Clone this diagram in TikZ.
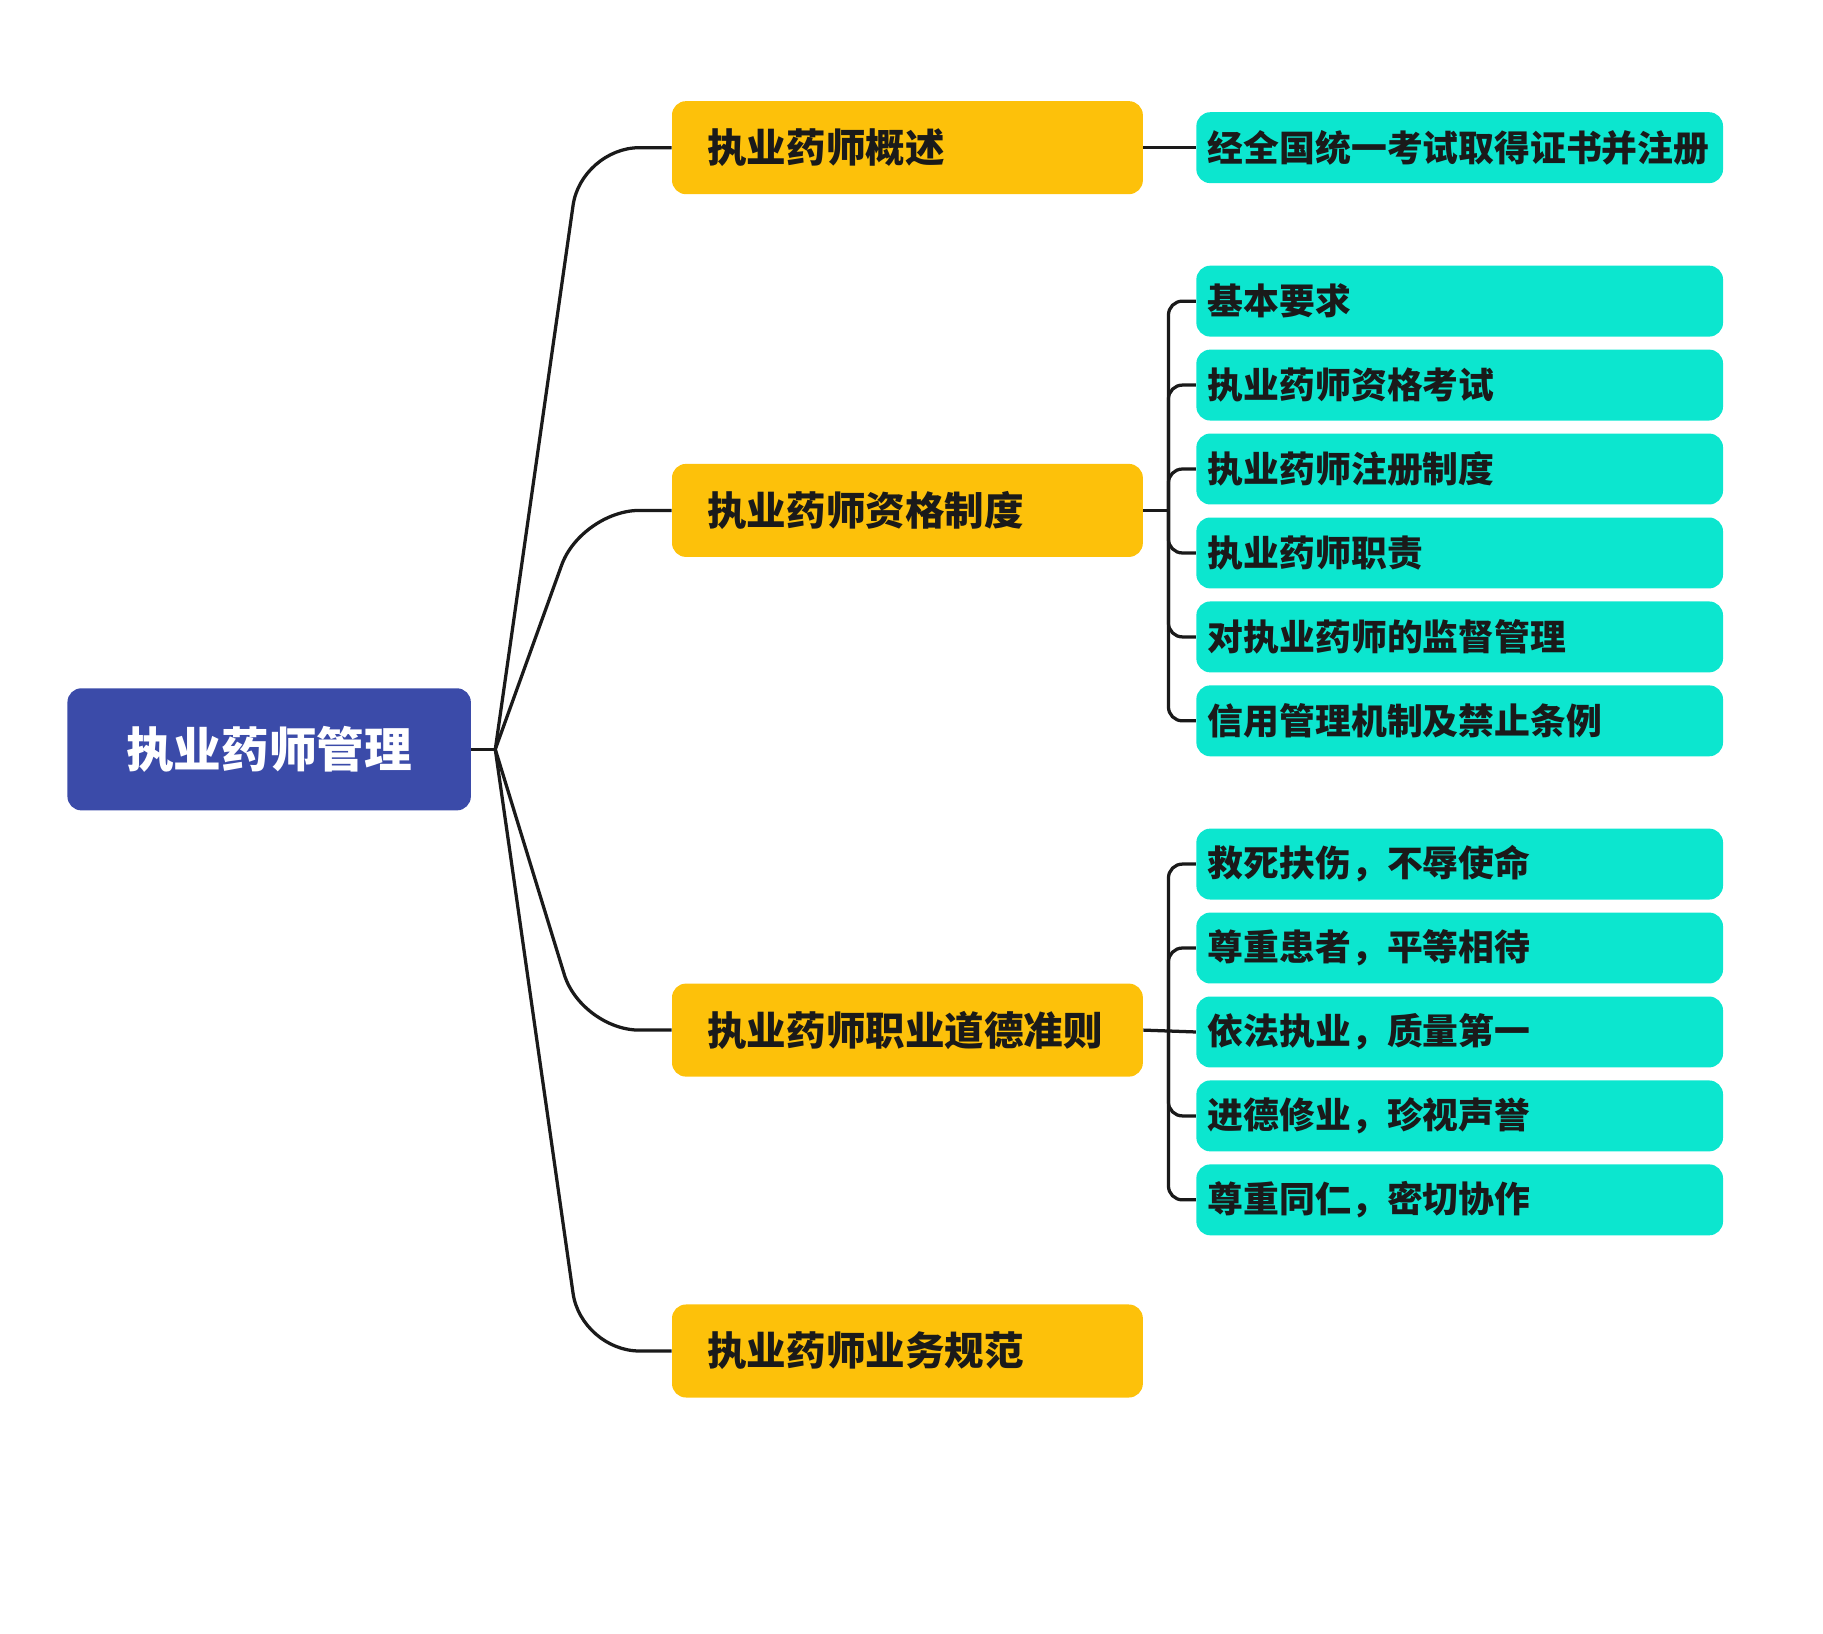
\documentclass[tikz,border=0pt]{standalone}
\usepackage{fontspec}
\setmainfont{Noto Sans CJK SC}
\usetikzlibrary{positioning}
\definecolor{rootblue}{HTML}{3B4BA9}
\definecolor{branchyellow}{HTML}{FDC10A}
\definecolor{leafteal}{HTML}{0CE6CF}
\definecolor{inkblack}{HTML}{1A1A1A}

\begin{document}
\begin{tikzpicture}[
	x=0.5pt, y=-0.5pt,
	every node/.style={node distance=5.2pt and 5.2pt, font=\bfseries},
	topic/.style={rectangle, fill=rootblue, text=white, rounded corners=6pt, minimum width=173.5pt, minimum height=52.5pt, text badly centered, font=\bfseries\fontsize{20.5pt}{24pt}\selectfont},
	branch/.style={rectangle, fill=branchyellow, text=inkblack, rounded corners=6pt, inner xsep=15.25pt, text width=172pt, minimum height=40pt, align=left, font=\bfseries\fontsize{17pt}{20pt}\selectfont},
	leaf/.style={rectangle, fill=leafteal, text=inkblack, rounded corners=6pt, inner xsep=5pt, text width=216.5pt, minimum height=30.5pt, align=left, font=\bfseries\fontsize{15.4pt}{18pt}\selectfont},
	link/.style={draw=inkblack, line width=1.4pt}
	]

\useasboundingbox (0,0) rectangle (1568,1405);

% Central topic
\node [topic] (root) at (231.5,644.5) {执业药师管理};

% Main branches
\node [branch] (overview) at (780.5,127) {执业药师概述};
\node [branch] (qualification) at (780.5,439) {执业药师资格制度};
\node [branch] (ethics) at (780.5,886) {执业药师职业道德准则};
\node [branch] (practice) at (780.5,1162) {执业药师业务规范};

% Overview
\node [leaf] (overview1) at (1255.5,127) {经全国统一考试取得证书并注册};

% Qualification system
\node [leaf] (qual1) at (1255.5,259) {基本要求};
\node [leaf, below=of qual1] (qual2) {执业药师资格考试};
\node [leaf, below=of qual2] (qual3) {执业药师注册制度};
\node [leaf, below=of qual3] (qual4) {执业药师职责};
\node [leaf, below=of qual4] (qual5) {对执业药师的监督管理};
\node [leaf, below=of qual5] (qual6) {信用管理机制及禁止条例};

% Professional ethics
\node [leaf] (ethics1) at (1255.5,743.2) {救死扶伤，不辱使命};
\node [leaf, below=of ethics1] (ethics2) {尊重患者，平等相待};
\node [leaf, below=of ethics2] (ethics3) {依法执业，质量第一};
\node [leaf, below=of ethics3] (ethics4) {进德修业，珍视声誉};
\node [leaf, below=of ethics4] (ethics5) {尊重同仁，密切协作};

% Connectors to the main branches
\coordinate (hub) at (426,644.5);
\coordinate (bend) at (500,0);
\coordinate (bus) at (1005,0);

\draw[link] (root.east) -- (hub);
\draw[link, rounded corners=25pt] (hub) -- (bend |- overview.west) -- (overview.west);
\draw[link, rounded corners=25pt] (hub) -- (bend |- qualification.west) -- (qualification.west);
\draw[link, rounded corners=25pt] (hub) -- (bend |- ethics.west) -- (ethics.west);
\draw[link, rounded corners=25pt] (hub) -- (bend |- practice.west) -- (practice.west);

% Connectors to the leaves
\draw[link] (overview.east) -- (overview1.west);

\draw[link] (qualification.east) -- (bus |- qualification.east);
\draw[link, rounded corners=6pt] (bus |- qualification.east) -- (bus |- qual1.west) -- (qual1.west);
\draw[link, rounded corners=6pt] (bus |- qualification.east) -- (bus |- qual2.west) -- (qual2.west);
\draw[link, rounded corners=6pt] (bus |- qualification.east) -- (bus |- qual3.west) -- (qual3.west);
\draw[link, rounded corners=6pt] (bus |- qualification.east) -- (bus |- qual4.west) -- (qual4.west);
\draw[link, rounded corners=6pt] (bus |- qualification.east) -- (bus |- qual5.west) -- (qual5.west);
\draw[link, rounded corners=6pt] (bus |- qualification.east) -- (bus |- qual6.west) -- (qual6.west);

\draw[link] (ethics.east) -- (ethics3.west);
\draw[link, rounded corners=6pt] (bus |- ethics.east) -- (bus |- ethics1.west) -- (ethics1.west);
\draw[link, rounded corners=6pt] (bus |- ethics.east) -- (bus |- ethics2.west) -- (ethics2.west);
\draw[link, rounded corners=6pt] (bus |- ethics.east) -- (bus |- ethics4.west) -- (ethics4.west);
\draw[link, rounded corners=6pt] (bus |- ethics.east) -- (bus |- ethics5.west) -- (ethics5.west);

\end{tikzpicture}
\end{document}
